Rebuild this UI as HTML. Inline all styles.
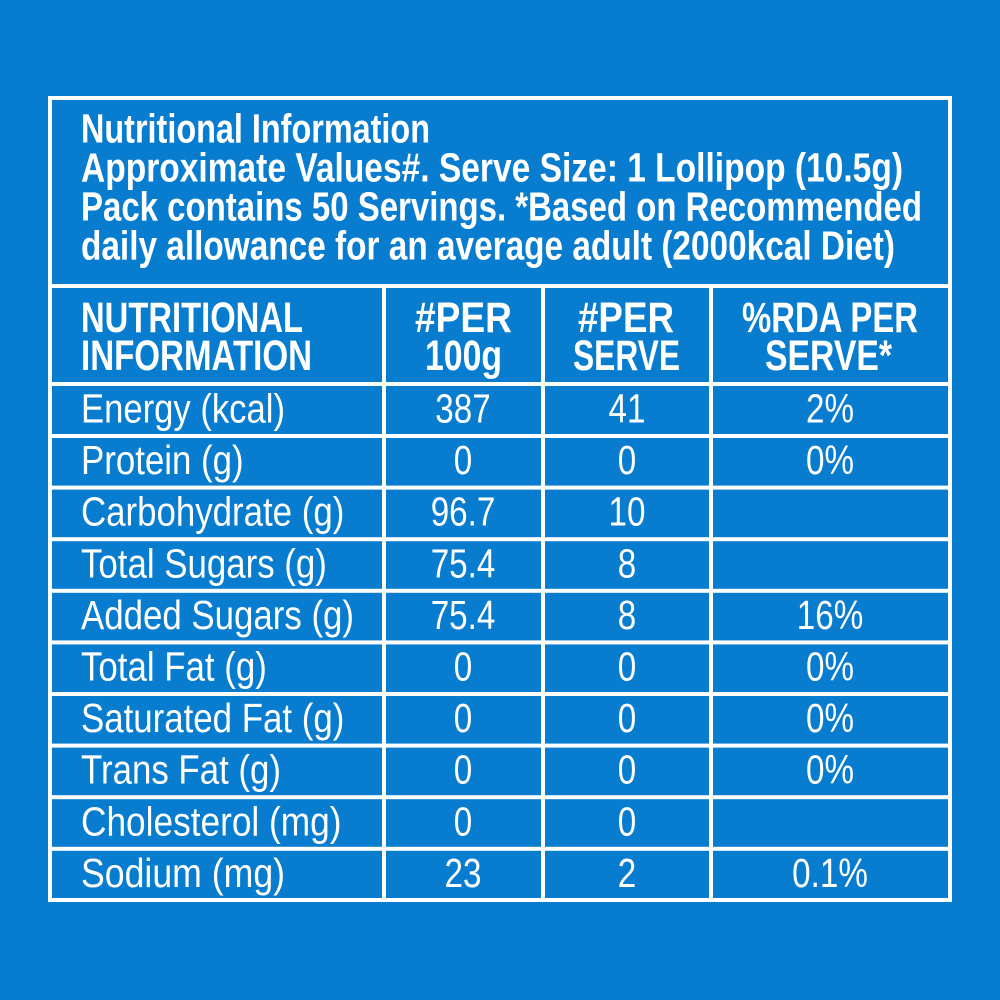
<!DOCTYPE html>
<html>
<head>
<meta charset="utf-8">
<style>
  html,body{margin:0;padding:0;background:#087dd0;}
  svg{display:block;}
  text{font-family:"Liberation Sans", Arial, sans-serif;fill:#ffffff;}
  .b{font-weight:bold;}
</style>
</head>
<body>
<svg width="1000" height="1000" viewBox="0 0 1000 1000" xmlns="http://www.w3.org/2000/svg">
  <rect x="0" y="0" width="1000" height="1000" fill="#087dd0"/>
  <g fill="#ffffff">
    <!-- outer border -->
    <rect x="48" y="96" width="904" height="4"/>
    <rect x="48" y="898" width="904" height="4"/>
    <rect x="48" y="96" width="4" height="806"/>
    <rect x="948" y="96" width="4" height="806"/>
    <!-- horizontal lines -->
    <rect x="48" y="284" width="904" height="4"/>
    <rect x="48" y="382" width="904" height="4"/>
    <rect x="48" y="434" width="904" height="4"/>
    <rect x="48" y="485.6" width="904" height="4"/>
    <rect x="48" y="537.2" width="904" height="4"/>
    <rect x="48" y="588.8" width="904" height="4"/>
    <rect x="48" y="640.4" width="904" height="4"/>
    <rect x="48" y="692" width="904" height="4"/>
    <rect x="48" y="743.6" width="904" height="4"/>
    <rect x="48" y="795.2" width="904" height="4"/>
    <rect x="48" y="846.8" width="904" height="4"/>
    <!-- vertical lines -->
    <rect x="382" y="284" width="4" height="618"/>
    <rect x="541" y="284" width="4" height="618"/>
    <rect x="709" y="284" width="4" height="618"/>
  </g>

  <!-- Title block -->
  <g class="b" font-size="40.5">
    <text class="b" x="81" y="142.5" textLength="349" lengthAdjust="spacingAndGlyphs">Nutritional Information</text>
    <text class="b" x="81" y="181.5" textLength="822" lengthAdjust="spacingAndGlyphs">Approximate Values#. Serve Size: 1 Lollipop (10.5g)</text>
    <text class="b" x="81" y="220.5" textLength="841" lengthAdjust="spacingAndGlyphs">Pack contains 50 Servings. *Based on Recommended</text>
    <text class="b" x="81" y="259.5" textLength="814" lengthAdjust="spacingAndGlyphs">daily allowance for an average adult (2000kcal Diet)</text>
  </g>

  <!-- Column headers -->
  <g font-size="43">
    <text class="b" x="81" y="332" textLength="222" lengthAdjust="spacingAndGlyphs">NUTRITIONAL</text>
    <text class="b" x="81" y="370" textLength="231" lengthAdjust="spacingAndGlyphs">INFORMATION</text>
    <text class="b" x="415" y="332" textLength="97" lengthAdjust="spacingAndGlyphs">#PER</text>
    <text class="b" x="425" y="370" textLength="77" lengthAdjust="spacingAndGlyphs">100g</text>
    <text class="b" x="578" y="332" textLength="96" lengthAdjust="spacingAndGlyphs">#PER</text>
    <text class="b" x="573" y="370" textLength="107" lengthAdjust="spacingAndGlyphs">SERVE</text>
    <text class="b" x="742" y="332" textLength="176" lengthAdjust="spacingAndGlyphs">%RDA PER</text>
    <text class="b" x="765" y="370" textLength="127" lengthAdjust="spacingAndGlyphs">SERVE*</text>
  </g>

  <!-- Body rows -->
  <g font-size="41">
    <!-- row 0 -->
    <text transform="translate(81,422.5) scale(0.845,1)">Energy (kcal)</text>
    <text text-anchor="middle" transform="translate(463,422.5) scale(0.81,1)">387</text>
    <text text-anchor="middle" transform="translate(627,422.5) scale(0.81,1)">41</text>
    <text text-anchor="middle" transform="translate(830,422.5) scale(0.81,1)">2%</text>
    <!-- row 1 -->
    <text transform="translate(81,474.1) scale(0.85,1)">Protein (g)</text>
    <text text-anchor="middle" transform="translate(463,474.1) scale(0.81,1)">0</text>
    <text text-anchor="middle" transform="translate(627,474.1) scale(0.81,1)">0</text>
    <text text-anchor="middle" transform="translate(830,474.1) scale(0.81,1)">0%</text>
    <!-- row 2 -->
    <text transform="translate(81,525.7) scale(0.85,1)">Carbohydrate (g)</text>
    <text text-anchor="middle" transform="translate(463,525.7) scale(0.81,1)">96.7</text>
    <text text-anchor="middle" transform="translate(627,525.7) scale(0.81,1)">10</text>
    <!-- row 3 -->
    <text transform="translate(81,577.3) scale(0.85,1)">Total Sugars (g)</text>
    <text text-anchor="middle" transform="translate(463,577.3) scale(0.81,1)">75.4</text>
    <text text-anchor="middle" transform="translate(627,577.3) scale(0.81,1)">8</text>
    <!-- row 4 -->
    <text transform="translate(81,628.9) scale(0.85,1)">Added Sugars (g)</text>
    <text text-anchor="middle" transform="translate(463,628.9) scale(0.81,1)">75.4</text>
    <text text-anchor="middle" transform="translate(627,628.9) scale(0.81,1)">8</text>
    <text text-anchor="middle" transform="translate(830,628.9) scale(0.81,1)">16%</text>
    <!-- row 5 -->
    <text transform="translate(81,680.5) scale(0.85,1)">Total Fat (g)</text>
    <text text-anchor="middle" transform="translate(463,680.5) scale(0.81,1)">0</text>
    <text text-anchor="middle" transform="translate(627,680.5) scale(0.81,1)">0</text>
    <text text-anchor="middle" transform="translate(830,680.5) scale(0.81,1)">0%</text>
    <!-- row 6 -->
    <text transform="translate(81,732.1) scale(0.85,1)">Saturated Fat (g)</text>
    <text text-anchor="middle" transform="translate(463,732.1) scale(0.81,1)">0</text>
    <text text-anchor="middle" transform="translate(627,732.1) scale(0.81,1)">0</text>
    <text text-anchor="middle" transform="translate(830,732.1) scale(0.81,1)">0%</text>
    <!-- row 7 -->
    <text transform="translate(81,783.7) scale(0.85,1)">Trans Fat (g)</text>
    <text text-anchor="middle" transform="translate(463,783.7) scale(0.81,1)">0</text>
    <text text-anchor="middle" transform="translate(627,783.7) scale(0.81,1)">0</text>
    <text text-anchor="middle" transform="translate(830,783.7) scale(0.81,1)">0%</text>
    <!-- row 8 -->
    <text transform="translate(81,835.3) scale(0.86,1)">Cholesterol (mg)</text>
    <text text-anchor="middle" transform="translate(463,835.3) scale(0.81,1)">0</text>
    <text text-anchor="middle" transform="translate(627,835.3) scale(0.81,1)">0</text>
    <!-- row 9 -->
    <text transform="translate(81,887) scale(0.87,1)">Sodium (mg)</text>
    <text text-anchor="middle" transform="translate(463,887) scale(0.81,1)">23</text>
    <text text-anchor="middle" transform="translate(627,887) scale(0.81,1)">2</text>
    <text text-anchor="middle" transform="translate(830,887) scale(0.81,1)">0.1%</text>
  </g>
</svg>
</body>
</html>
